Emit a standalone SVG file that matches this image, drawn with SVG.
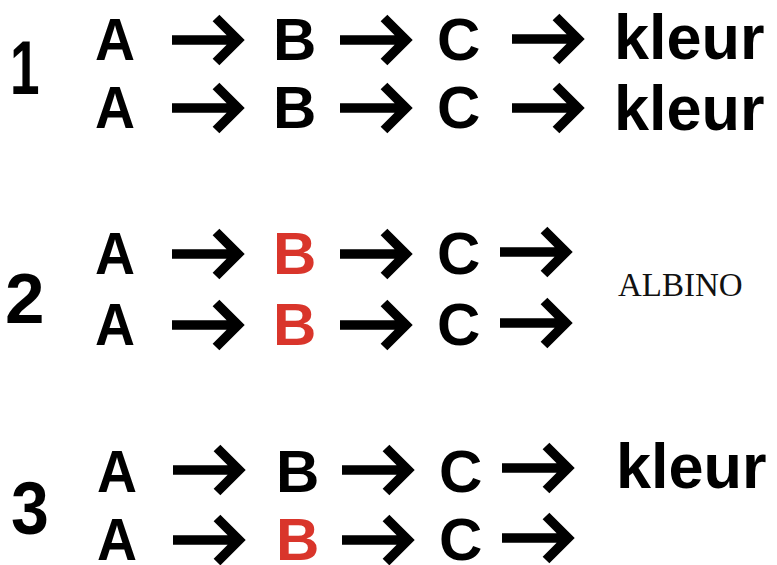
<svg xmlns="http://www.w3.org/2000/svg" xmlns:xlink="http://www.w3.org/1999/xlink" width="777" height="565" viewBox="0 0 777 565">
<style>
.t{font-family:"Liberation Sans",Arial,sans-serif;font-weight:bold;font-size:60px;fill:#000}
.r{fill:#d9352b}
.k{font-size:63px}
.n{font-family:"Liberation Sans",Arial,sans-serif;font-weight:bold;fill:#000}
.al{font-family:"Liberation Serif","Times New Roman",serif;font-size:33px;fill:#111}
.arr{fill:none;stroke:#000;stroke-width:9.5;stroke-linejoin:miter;stroke-miterlimit:10}
</style>
<defs>
<path id="ar" class="arr" d="M0 0H66M44 -22L66 0L44 22"/>
</defs>
<rect width="777" height="565" fill="#fff"/>
<g id="labels">
<text class="n" transform="translate(10,94) scale(0.7,1)" font-size="76">1</text>
<text class="n" x="5" y="323" font-size="71">2</text>
<text class="n" transform="translate(11,534) scale(0.92,1)" font-size="74">3</text>
</g>
<g id="s1r1">
<text class="t" x="95" y="60" textLength="40" lengthAdjust="spacingAndGlyphs">A</text>
<text class="t" x="273" y="60">B</text>
<text class="t" x="437" y="60">C</text>
<text class="t k" x="614" y="59">kleur</text>
</g>
<g id="s1r2">
<text class="t" x="95" y="128" textLength="40" lengthAdjust="spacingAndGlyphs">A</text>
<text class="t" x="273" y="128">B</text>
<text class="t" x="437" y="128">C</text>
<text class="t k" x="614" y="130">kleur</text>
</g>
<g id="s2r1">
<text class="t" x="95" y="274" textLength="40" lengthAdjust="spacingAndGlyphs">A</text>
<text class="t r" x="273" y="274">B</text>
<text class="t" x="437" y="274">C</text>
</g>
<g id="s2r2">
<text class="t" x="95" y="345" textLength="40" lengthAdjust="spacingAndGlyphs">A</text>
<text class="t r" x="273" y="345">B</text>
<text class="t" x="437" y="345">C</text>
</g>
<g id="albino">
<text class="al" x="618" y="296">ALBINO</text>
</g>
<g id="s3r1">
<text class="t" x="97" y="492" textLength="40" lengthAdjust="spacingAndGlyphs">A</text>
<text class="t" x="276" y="492">B</text>
<text class="t" x="439" y="492">C</text>
<text class="t k" x="616" y="488">kleur</text>
</g>
<g id="s3r2">
<text class="t" x="97" y="560" textLength="40" lengthAdjust="spacingAndGlyphs">A</text>
<text class="t r" x="276" y="560">B</text>
<text class="t" x="439" y="560">C</text>
</g>
<g id="connectors">
<use xlink:href="#ar" href="#ar" x="172" y="40"/>
<use xlink:href="#ar" href="#ar" x="340" y="40"/>
<use xlink:href="#ar" href="#ar" x="512" y="39"/>
<use xlink:href="#ar" href="#ar" x="172" y="108"/>
<use xlink:href="#ar" href="#ar" x="340" y="108"/>
<use xlink:href="#ar" href="#ar" x="512" y="108"/>
<use xlink:href="#ar" href="#ar" x="172" y="254"/>
<use xlink:href="#ar" href="#ar" x="340" y="254"/>
<use xlink:href="#ar" href="#ar" x="500" y="252"/>
<use xlink:href="#ar" href="#ar" x="172" y="325"/>
<use xlink:href="#ar" href="#ar" x="340" y="325"/>
<use xlink:href="#ar" href="#ar" x="500" y="323"/>
<use xlink:href="#ar" href="#ar" x="173" y="470"/>
<use xlink:href="#ar" href="#ar" x="342" y="470"/>
<use xlink:href="#ar" href="#ar" x="502" y="468"/>
<use xlink:href="#ar" href="#ar" x="173" y="540"/>
<use xlink:href="#ar" href="#ar" x="342" y="540"/>
<use xlink:href="#ar" href="#ar" x="502" y="538"/>
</g>
</svg>
